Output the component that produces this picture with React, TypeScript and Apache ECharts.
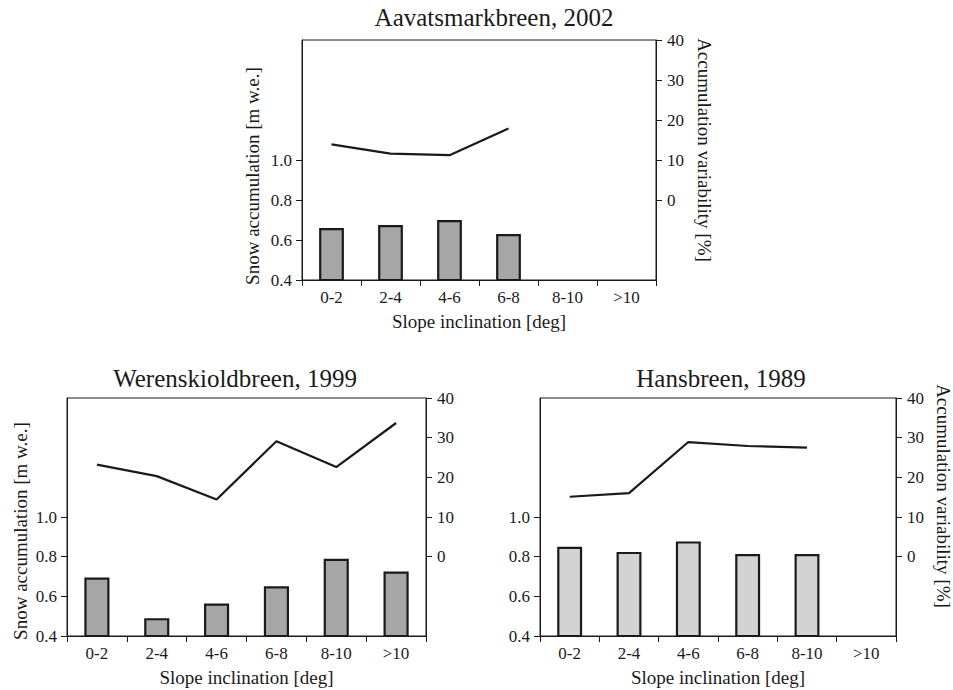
import React, { useEffect, useRef } from "react";
import * as echarts from "echarts";

const categories = ["0-2", "2-4", "4-6", "6-8", "8-10", ">10"];
const aavAccum = [0.66, 0.675, 0.70, 0.63, null, null];
const aavVar = [13.9, 11.6, 11.2, 17.9, null, null];
const werAccum = [0.695, 0.49, 0.564, 0.651, 0.789, 0.725];
const werVar = [23.2, 20.3, 14.4, 29.1, 22.6, 33.7];
const hanAccum = [0.85, 0.824, 0.877, 0.813, 0.813, null];
const hanVar = [15.1, 16.0, 28.9, 27.9, 27.5, null];
const leftTicks = [0.4, 0.6, 0.8, 1.0];
const rightTicks = [0, 10, 20, 30, 40];

const FONT = "Liberation Serif, serif";
const TXT = "#1a1a1a";

const grids = [
  { left: 302, top: 40, width: 354, height: 240 },
  { left: 67, top: 398, width: 359, height: 238 },
  { left: 540, top: 398, width: 356, height: 238 },
];

function App() {
  const ref = useRef<HTMLDivElement>(null);
  useEffect(() => {
    const chart = echarts.init(ref.current!, null, { renderer: "svg" });
    const xAxis = grids.map((_, i) => ({
      type: "category",
      gridIndex: i,
      data: categories,
      boundaryGap: true,
      axisLine: { onZero: false, lineStyle: { color: TXT, width: 1 } },
      axisTick: { show: true, length: 6, inside: false, alignWithLabel: false, lineStyle: { color: TXT } },
      axisLabel: { color: TXT, fontFamily: FONT, fontSize: 17, margin: 9 },
      name: "Slope inclination [deg]",
      nameLocation: "middle",
      nameGap: 32,
      nameTextStyle: { color: TXT, fontFamily: FONT, fontSize: 19 },
    }));
    const yAxis: any[] = [];
    grids.forEach((_, i) => {
      yAxis.push({
        type: "value",
        gridIndex: i,
        position: "left",
        min: 0.4,
        max: 1.6,
        interval: 0.2,
        splitLine: { show: false },
        axisLine: { show: true, lineStyle: { color: TXT } },
        axisTick: { show: true, length: 6, lineStyle: { color: TXT }, customValues: leftTicks },
        axisLabel: {
          color: TXT,
          fontFamily: FONT,
          fontSize: 17,
          margin: 10,
          customValues: leftTicks,
          formatter: (v: number) => v.toFixed(1),
        },
      });
      yAxis.push({
        type: "value",
        gridIndex: i,
        position: "right",
        min: -20,
        max: 40,
        interval: 10,
        splitLine: { show: false },
        axisLine: { show: true, lineStyle: { color: TXT } },
        axisTick: { show: true, length: 6, lineStyle: { color: TXT }, customValues: rightTicks },
        axisLabel: {
          color: TXT,
          fontFamily: FONT,
          fontSize: 17,
          margin: 11,
          customValues: rightTicks,
        },
      });
    });
    const barSeries = (i: number, data: any[], color: string) => ({
      type: "bar",
      xAxisIndex: i,
      yAxisIndex: i * 2,
      data,
      barWidth: "42%",
      itemStyle: { color, borderColor: "#1a1a1a", borderWidth: 2.2 },
    });
    const lineSeries = (i: number, data: any[]) => ({
      type: "line",
      xAxisIndex: i,
      yAxisIndex: i * 2 + 1,
      data,
      symbol: "none",
      lineStyle: { color: "#1a1a1a", width: 2.2 },
    });
    const titleText = (text: string, x: number, y: number) => ({
      text,
      left: x,
      top: y,
      textAlign: "center",
      textStyle: { color: TXT, fontFamily: FONT, fontSize: 25, fontWeight: "normal" },
    });
    const vText = (text: string, x: number, y: number, rot: number) => ({
      type: "text",
      x,
      y,
      rotation: rot,
      style: {
        text,
        fill: TXT,
        fontFamily: FONT,
        fontSize: 19,
        align: "center",
        verticalAlign: "middle",
      },
    });
    chart.setOption({
      animation: false,
      backgroundColor: "#ffffff",
      textStyle: { fontFamily: FONT },
      title: [
        titleText("Aavatsmarkbreen, 2002", 489, 0),
        titleText("Werenskioldbreen, 1999", 230, 361),
        titleText("Hansbreen, 1989", 716, 361),
      ],
      grid: grids.map((g) => ({ ...g, show: true, borderColor: TXT, borderWidth: 1, backgroundColor: "transparent" })),
      xAxis,
      yAxis,
      graphic: [
        vText("Snow accumulation [m w.e.]", 252, 176, Math.PI / 2),
        vText("Accumulation variability [%]", 704, 150, -Math.PI / 2),
        vText("Snow accumulation [m w.e.]", 20, 531, Math.PI / 2),
        vText("Accumulation variability [%]", 943, 496, -Math.PI / 2),
      ],
      series: [
        barSeries(0, aavAccum, "#a6a6a6"),
        lineSeries(0, aavVar),
        barSeries(1, werAccum, "#a6a6a6"),
        lineSeries(1, werVar),
        barSeries(2, hanAccum, "#d3d3d3"),
        lineSeries(2, hanVar),
      ],
    });
    return () => chart.dispose();
  }, []);
  return <div ref={ref} style={{ width: 953, height: 690, position: "absolute", left: 0, top: 0 }} />;
}

export default App;
